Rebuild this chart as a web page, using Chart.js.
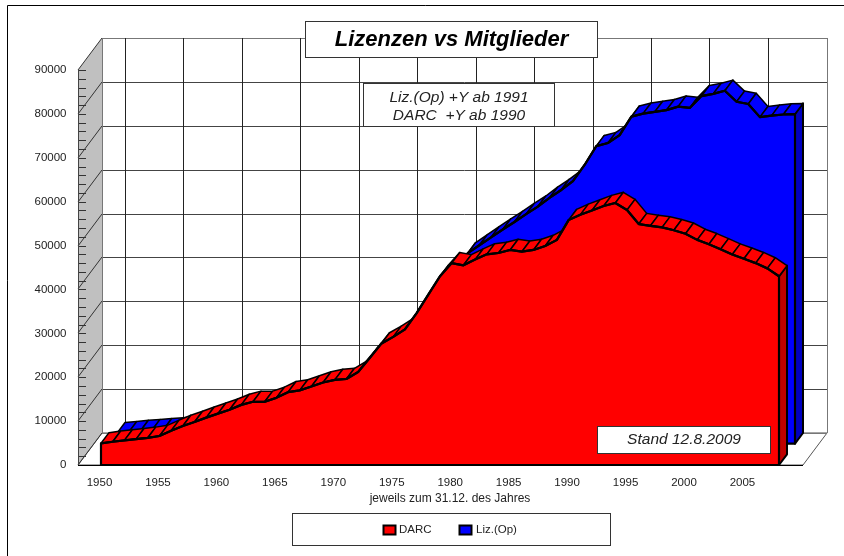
<!DOCTYPE html>
<html><head><meta charset="utf-8">
<style>html,body{margin:0;padding:0;background:#fff}canvas{display:block}</style>
<script src="https://cdn.jsdelivr.net/npm/chart.js@4"></script>
</head><body>
<div style="width:844px;height:556px"><canvas id="c"></canvas></div>
<script>
const years=[1950,1951,1952,1953,1954,1955,1956,1957,1958,1959,1960,1961,1962,1963,1964,1965,1966,1967,1968,1969,1970,1971,1972,1973,1974,1975,1976,1977,1978,1979,1980,1981,1982,1983,1984,1985,1986,1987,1988,1989,1990,1991,1992,1993,1994,1995,1996,1997,1998,1999,2000,2001,2002,2003,2004,2005,2006,2007,2008];
const darc=[4940,5300,5600,5900,6200,6600,7800,8900,9800,10800,11700,12600,13700,14400,14400,15300,16600,17000,17900,18800,19400,19600,21200,24400,27700,29200,30900,34600,38800,43000,46000,45500,46800,48000,48300,49000,48600,49000,49900,51300,55800,57000,58000,59000,59700,58100,54900,54500,54150,53500,52700,51300,50300,49150,47950,47000,46000,44800,43000];
const liz=[2400,2600,2900,3100,3300,3500,3800,4300,4800,5300,5800,6300,6900,7500,8000,8600,9300,10000,10800,11600,12400,13200,14500,16800,19500,22000,25000,28500,33000,38000,43400,45200,47000,48800,50500,52300,54000,56000,57800,59800,63500,67800,68500,70300,74500,75200,75600,76000,76800,76500,79200,79700,80400,77900,77400,74400,74750,75000,75100];
const seriesNames=['DARC','Liz.(Op)'];
const yTicks=[0,10000,20000,30000,40000,50000,60000,70000,80000,90000];
const titleText='Lizenzen vs Mitglieder';
const noteLines=['Liz.(Op) +Y ab 1991','DARC  +Y ab 1990'];
const standText='Stand 12.8.2009';
const xTitle='jeweils zum 31.12. des Jahres';

const DX=8, DY=-10.67;           // one depth step
const face={0:{c:'#ff0000',side:'#c00000',z:0},1:{c:'#0000ff',side:'#0000c0',z:2}};
const FONT='"Liberation Sans", Arial, sans-serif';

function path(ctx,pts,close){ctx.beginPath();pts.forEach((p,i)=>i?ctx.lineTo(p[0],p[1]):ctx.moveTo(p[0],p[1]));if(close)ctx.closePath();}
function box(ctx,x,y,w,h){ctx.fillStyle='#fff';ctx.fillRect(x,y,w,h);ctx.strokeStyle='#333';ctx.lineWidth=1;ctx.strokeRect(x+.5,y+.5,w-1,h-1);}

const walls={id:'walls',beforeDatasetsDraw(chart){
  const {ctx,scales:{x,y},chartArea:a}=chart;
  const bx=3*DX,by=3*DY,L=a.left-bx+1,R=a.right+bx,B=y.getPixelForValue(0),T=y.getPixelForValue(90000);
  ctx.save();
  // frame
  ctx.strokeStyle='#000';ctx.lineWidth=1;path(ctx,[[7.5,556],[7.5,5.5],[844,5.5]]);ctx.stroke();
  // left wall
  path(ctx,[[L,B],[L+bx,B+by],[L+bx,T+by],[L,T]],true);ctx.fillStyle='#c0c0c0';ctx.fill();
  // floor
  path(ctx,[[L,B],[R,B],[R+bx,B+by],[L+bx,B+by]],true);ctx.fillStyle='#fff';ctx.fill();
  ctx.lineWidth=1;ctx.strokeStyle='#555';ctx.stroke();
  // back wall horizontals & left wall diagonals
  ctx.strokeStyle='#333';
  yTicks.forEach(v=>{const p=Math.round(y.getPixelForValue(v));
    path(ctx,[[L,p],[L+bx,p+by]]);ctx.stroke();
    ctx.strokeStyle=v===90000||v===0?'#777':'#444';
    path(ctx,[[L+bx,Math.round(p+by)+.5],[R+bx,Math.round(p+by)+.5]]);ctx.stroke();
    ctx.strokeStyle='#333';
  });
  // back wall verticals
  years.forEach((yr,i)=>{if(yr%5)return;const p=Math.round(x.getPixelForValue(i)+bx)+.5;
    path(ctx,[[p,T+by],[p,B+by]]);ctx.strokeStyle='#222';ctx.stroke();});
  ctx.strokeStyle='#777';
  path(ctx,[[L+bx+.5,T+by],[L+bx+.5,B+by]]);ctx.stroke();
  path(ctx,[[R+bx+.5,T+by],[R+bx+.5,B+by]]);ctx.stroke();
  // wall minor ticks
  ctx.strokeStyle='#333';
  for(let v=0;v<=90000;v+=2000){const p=Math.round(y.getPixelForValue(v))+.5;path(ctx,[[L,p],[L+8,p]]);ctx.stroke();}
  path(ctx,[[L+.5,T],[L+.5,B]]);ctx.strokeStyle='#444';ctx.stroke();
  path(ctx,[[L,B+.5],[R,B+.5]]);ctx.strokeStyle='#000';ctx.stroke();
  ctx.restore();
},
beforeDatasetDraw(chart,args){
  const {ctx,scales:{y}}=chart;const f=face[args.index];const pts=args.meta.data.map(e=>[e.x,e.y]);
  const B=y.getPixelForValue(0),last=pts[pts.length-1];
  ctx.save();ctx.translate(f.z*DX,f.z*DY);
  ctx.lineJoin='round';ctx.strokeStyle='#000';
  // right side
  path(ctx,[[last[0],last[1]],[last[0]+DX,last[1]+DY],[last[0]+DX,B+DY],[last[0],B]],true);
  ctx.fillStyle=f.side;ctx.fill();ctx.lineWidth=2;ctx.stroke();
  // top band, one cell per year
  for(let i=0;i<pts.length-1;i++){const a=pts[i],b=pts[i+1];
    path(ctx,[a,b,[b[0]+DX,b[1]+DY],[a[0]+DX,a[1]+DY]],true);
    ctx.fillStyle=f.c;ctx.fill();ctx.lineWidth=1.5;ctx.stroke();}
  // front face
  path(ctx,[[pts[0][0],B],...pts,[last[0],B]],true);
  ctx.fillStyle=f.c;ctx.fill();ctx.lineWidth=2.2;ctx.stroke();
},
afterDatasetDraw(chart){chart.ctx.restore();},
afterDraw(chart){
  const ctx=chart.ctx;ctx.save();
  // title
  box(ctx,305,21,293,37);ctx.fillStyle='#000';ctx.textAlign='center';ctx.textBaseline='middle';
  ctx.font='italic bold 22px '+FONT;ctx.fillText(titleText,451.5,39.5);
  // note
  box(ctx,363,83,192,44);ctx.fillStyle='#222';ctx.font='italic 15.5px '+FONT;
  ctx.fillText(noteLines[0],459,98);ctx.fillText(noteLines[1],459,115.5);
  // stand
  box(ctx,597,426,174,28);ctx.fillStyle='#222';ctx.font='italic 15.5px '+FONT;ctx.fillText(standText,684,439.5);
  // x title
  ctx.font='12px '+FONT;ctx.fillStyle='#222';ctx.fillText(xTitle,450,499);
  // legend
  box(ctx,292,513,319,33);ctx.textAlign='left';ctx.font='11.5px '+FONT;
  [[383.5,'#ff0000',399,0],[459.5,'#0000ff',476,1]].forEach(([sx,col,tx,i])=>{
    ctx.fillStyle=col;ctx.fillRect(sx,525.5,12,9);ctx.strokeStyle='#000';ctx.lineWidth=2;ctx.strokeRect(sx,525.5,12,9);
    ctx.fillStyle='#222';ctx.fillText(seriesNames[i],tx,529.5);});
  ctx.restore();
}};

new Chart(document.getElementById('c'),{
  type:'line',
  data:{labels:years,datasets:[
    {label:seriesNames[0],data:darc,borderColor:'#000',borderWidth:2.2,backgroundColor:'#ff0000',pointRadius:0,tension:0,fill:false,clip:false},
    {label:seriesNames[1],data:liz,borderColor:'#000',borderWidth:2.2,backgroundColor:'#0000ff',pointRadius:0,tension:0,fill:false,clip:false}
  ]},
  options:{responsive:true,maintainAspectRatio:false,animation:false,
    layout:{autoPadding:false,padding:{left:0,top:70,right:65,bottom:61}},
    plugins:{legend:{display:false},title:{display:false},tooltip:{enabled:false}},
    scales:{
      x:{type:'category',offset:false,grid:{display:false,drawTicks:false},border:{display:false},
        afterFit(s){s.height=30;},
        ticks:{autoSkip:false,maxRotation:0,minRotation:0,padding:11,labelOffset:-1.5,color:'#222',font:{family:FONT,size:11.5},
          callback(v,i){const yr=years[i];return yr%5===0?String(yr):'';}}},
      y:{min:0,max:90000,grid:{display:false,drawTicks:false},border:{display:false},
        afterFit(s){s.width=101;},
        afterBuildTicks(s){s.ticks=yTicks.map(v=>({value:v}));},
        ticks:{padding:34.5,color:'#222',font:{family:FONT,size:11.5},callback(v){return String(v);}}}
    }
  },
  plugins:[walls]
});
</script>
</body></html>
